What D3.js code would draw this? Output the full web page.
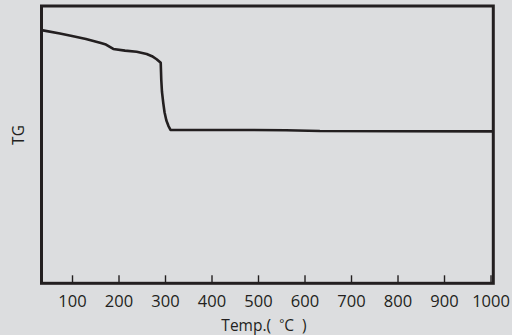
<!DOCTYPE html>
<html lang="en">
<head>
<meta charset="UTF-8">
<title>TG</title>
<script src="https://d3js.org/d3.v7.min.js"></script>
<style>
  html, body { margin: 0; padding: 0; background: #dcdddf; }
  svg { display: block; }
  text { font-family: "Open Sans", "DejaVu Sans", sans-serif; fill: #231f20; }
</style>
</head>
<body>
<div id="chart"></div>
<script>
  // DATA (temperature in C, TG weight in %)
  var temps   = [34.4, 74, 100, 130, 160.2, 173, 188.8, 214, 239, 260.6, 272, 282, 290.8, 292, 293.5, 296.3, 299, 302.8, 307.5, 311.8, 482.8, 560, 633, 800, 1006];
  var weights = [91.3, 90.1, 89.2, 88.1, 86.75, 86.1, 84.5, 83.9, 83.5, 82.7, 81.9, 80.8, 79.5, 73.3, 69, 65, 61.7, 58.8, 56.7, 55.3, 55.3, 55.2, 54.9, 54.85, 54.8];
  var tickValues = [100, 200, 300, 400, 500, 600, 700, 800, 900, 1000];

  var data = temps.map(function(t, i) { return { t: t, w: weights[i] }; });

  // DIMENSIONS
  var W = 512, H = 335;
  var m = { left: 41.5, right: 493.3, top: 6, bottom: 283.3 };

  var svg = d3.select("#chart").append("svg")
    .attr("width", W)
    .attr("height", H);

  var x = d3.scaleLinear().domain([34.4, 1006]).range([m.left, m.right]);
  var y = d3.scaleLinear().domain([0, 100]).range([m.bottom, m.top]);

  // x axis, ticks pointing inward
  var xAxis = svg.append("g")
    .attr("transform", "translate(0," + m.bottom + ")")
    .call(d3.axisBottom(x).tickValues(tickValues).tickFormat(d3.format("d")).tickSize(-8).tickPadding(12));
  xAxis.select(".domain").remove();
  xAxis.selectAll(".tick line").attr("stroke", "#231f20").attr("stroke-width", 1.4);
  xAxis.selectAll(".tick text")
    .style("font-size", "16.5px")
    .attr("fill", "#231f20");

  // the curve
  var line = d3.line()
    .x(function(d) { return x(d.t); })
    .y(function(d) { return y(d.w); });

  svg.append("path")
    .datum(data)
    .attr("fill", "none")
    .attr("stroke", "#231f20")
    .attr("stroke-width", 2.6)
    .attr("stroke-linejoin", "round")
    .attr("d", line);

  // frame
  svg.append("rect")
    .attr("x", m.left)
    .attr("y", m.top)
    .attr("width", m.right - m.left)
    .attr("height", m.bottom - m.top)
    .attr("fill", "none")
    .attr("stroke", "#231f20")
    .attr("stroke-width", 3);

  // axis titles
  var xt = svg.append("text")
    .attr("x", 264)
    .attr("y", 331)
    .attr("text-anchor", "middle")
    .style("white-space", "pre")
    .style("font-size", "15.5px");
  xt.append("tspan").text("Temp.(  ");
  xt.append("tspan").attr("dy", -3).style("font-size", "12px").text("°");
  xt.append("tspan").attr("dy", 3).text("C  )");

  svg.append("text")
    .attr("transform", "translate(24,135) rotate(-90)")
    .attr("text-anchor", "middle")
    .style("font-size", "15.5px")
    .text("TG");
</script>
</body>
</html>
